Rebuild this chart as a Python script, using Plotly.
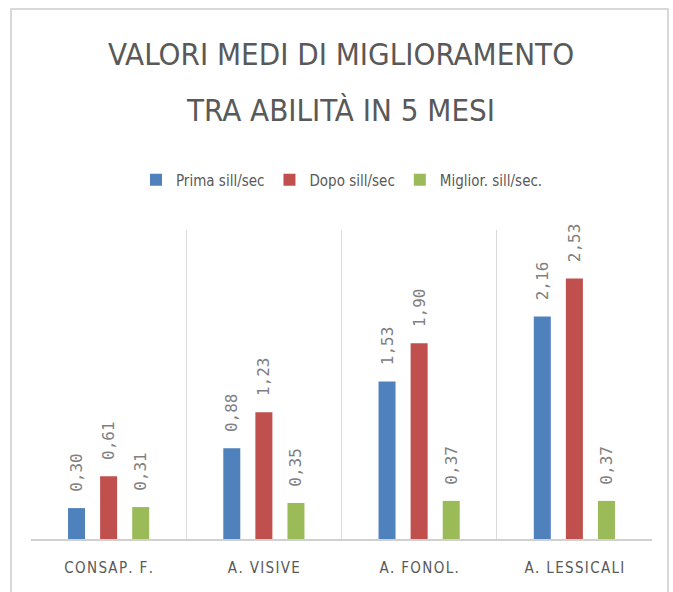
import plotly.graph_objects as go

categories = ["CONSAP. F.", "A. VISIVE", "A. FONOL.", "A. LESSICALI"]
prima = [0.30, 0.88, 1.53, 2.16]
dopo = [0.61, 1.23, 1.90, 2.53]
miglior = [0.31, 0.35, 0.37, 0.37]
series_names = ["Prima sill/sec", "Dopo sill/sec", "Miglior. sill/sec."]
colors = ["#4f81bd", "#c0504d", "#9bbb59"]

W, H = 673, 592
ML, MR, MT, MB = 31, 21, 230, 53
COND = "DejaVu Sans Condensed, DejaVu Sans, sans-serif"

def fmt(v):
    return '<span style="font-size:11px">\u00a0\u00a0</span>' + f"{v:.2f}".replace(".", ",")

def spaced(s):
    return "\u200a".join(s)

fig = go.Figure()
for name, vals, col in zip(series_names, [prima, dopo, miglior], colors):
    fig.add_trace(go.Bar(
        x=categories, y=vals, name=name,
        marker=dict(color=col, line=dict(width=0)),
        text=[fmt(v) for v in vals],
        textposition="outside", textangle=-90, constraintext="none",
        cliponaxis=False,
        textfont=dict(family="DejaVu Sans Mono", size=16, color="#808080"),
        hoverinfo="skip",
    ))

pw = W - ML - MR
ph = H - MT - MB
title_font = dict(family=COND, size=31, color="#595959")
fig.update_layout(
    width=W, height=H,
    margin=dict(l=ML, r=MR, t=MT, b=MB),
    paper_bgcolor="white", plot_bgcolor="white",
    barmode="group", bargap=0.38, bargroupgap=0.47,
    showlegend=True,
    legend=dict(orientation="h", x=0.5 + (342 - (ML + pw / 2)) / pw, xanchor="center",
                y=(ph + MT - 180) / ph, yanchor="middle",
                font=dict(family=COND, size=15, color="#595959"),
                itemwidth=30, traceorder="normal"),
    xaxis=dict(showgrid=True, gridcolor="#d9d9d9", gridwidth=1, tickson="boundaries",
               showline=True, linecolor="#d0d0d0", linewidth=1.5, ticks="",
               tickmode="array", tickvals=categories, ticktext=[spaced(c) for c in categories],
               tickfont=dict(family=COND, size=15, color="#595959"),
               ticklabelstandoff=14, fixedrange=True),
    yaxis=dict(range=[0, 3], visible=False, showgrid=False, zeroline=False, fixedrange=True),
    annotations=[
        dict(text="VALORI MEDI DI MIGLIORAMENTO", xref="paper", yref="paper", x=0.5 + (341 - (ML + pw / 2)) / pw,
             y=(ph + MT - 54) / ph, xanchor="center", yanchor="middle", showarrow=False, font=title_font),
        dict(text="TRA ABILITÀ IN 5 MESI", xref="paper", yref="paper", x=0.5 + (340 - (ML + pw / 2)) / pw,
             y=(ph + MT - 110) / ph, xanchor="center", yanchor="middle", showarrow=False, font=title_font),
    ],
    shapes=[
        dict(type="rect", xref="paper", yref="paper",
             x0=(11 - ML) / pw, x1=(668 - ML) / pw, y0=(ph + MT - 620) / ph, y1=(ph + MT - 9) / ph,
             line=dict(color="#d9d9d9", width=2), fillcolor="rgba(0,0,0,0)", layer="below"),
    ],
)

fig.write_html("out.html", config={"displayModeBar": False},
               post_script="document.body.style.margin='0';document.body.style.overflow='hidden';")
